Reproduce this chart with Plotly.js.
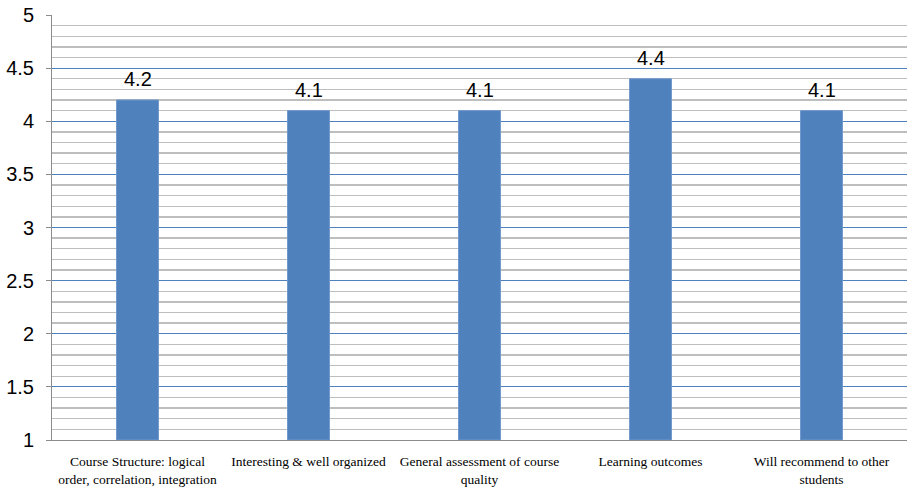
<!DOCTYPE html>
<html>
<head>
<meta charset="utf-8">
<script src="https://cdn.plot.ly/plotly-3.0.1.min.js"></script>
<style>html,body{margin:0;padding:0;background:#fff;}</style>
</head>
<body>
<div id="chart" style="width:907px;height:488px;"></div>
<script>
const categories = [
  "Course Structure: logical<br>order, correlation, integration",
  "Interesting &amp; well organized",
  "General assessment of course<br>quality",
  "Learning outcomes",
  "Will recommend to other<br>students"
];
const values = [4.2, 4.1, 4.1, 4.4, 4.1];
const valueLabels = ["4.2", "4.1", "4.1", "4.4", "4.1"];
const axisBase = 1;

const trace = {
  type: "bar",
  x: categories,
  y: values.map(v => v - axisBase),
  base: axisBase,
  marker: {color: "#4F81BD", line: {color: "#6F97CB", width: 1}},
  hoverinfo: "skip"
};

const annotations = categories.map((c, i) => ({
  x: c, y: values[i], xref: "x", yref: "y",
  text: valueLabels[i], showarrow: false,
  yanchor: "bottom", yshift: 8,
  font: {family: "Liberation Sans, Arial, sans-serif", size: 20, color: "#000"}
}));

const layout = {
  width: 907, height: 488,
  margin: {l: 52, r: 0, t: 15, b: 48},
  paper_bgcolor: "#fff", plot_bgcolor: "#fff",
  showlegend: false,
  bargap: 0.755,
  xaxis: {
    type: "category",
    showgrid: false, zeroline: false,
    showline: true, linecolor: "#8C8C8C", linewidth: 1,
    ticks: "", tickangle: 0,
    ticklabelstandoff: 9,
    tickfont: {family: "Liberation Serif, Times New Roman, serif", size: 13.5, color: "#000"},
    automargin: false
  },
  yaxis: {
    range: [1, 5], dtick: 0.5, tick0: 1,
    showgrid: true, gridcolor: "#4F81BD", gridwidth: 1,
    zeroline: false,
    showline: true, linecolor: "#8C8C8C", linewidth: 1,
    ticks: "outside", ticklen: 5, tickcolor: "#8C8C8C",
    ticklabelstandoff: 8,
    tickfont: {family: "Liberation Sans, Arial, sans-serif", size: 20, color: "#000"},
    minor: {dtick: 0.1, showgrid: true, gridcolor: "#BEBEBE", gridwidth: 1.3},
    automargin: false
  },
  annotations: annotations
};

Plotly.newPlot("chart", [trace], layout, {displayModeBar: false, staticPlot: true});
</script>
</body>
</html>
